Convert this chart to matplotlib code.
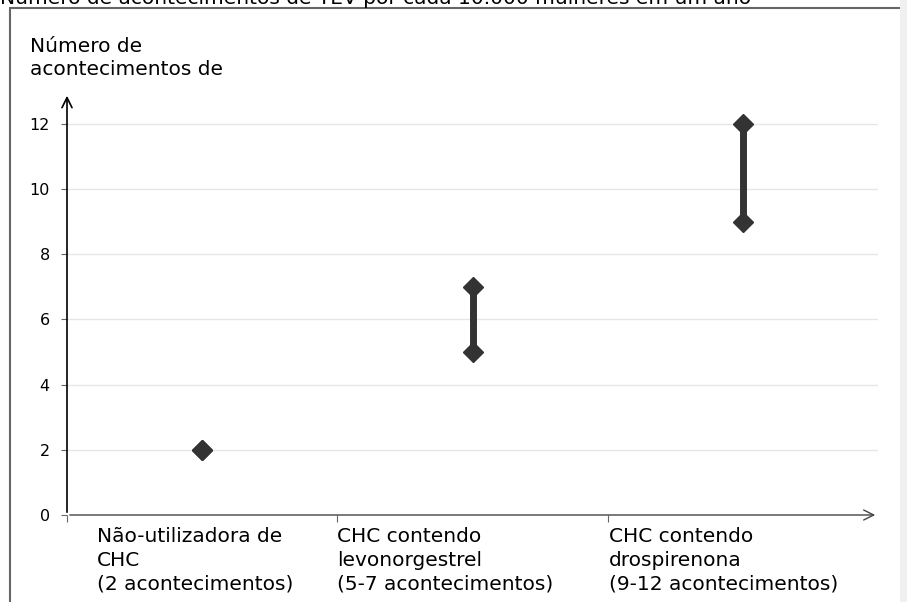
import numpy as np
import matplotlib
matplotlib.use("Agg")
import matplotlib.pyplot as plt
from matplotlib.patches import Rectangle

# dados
categorias = ["Não-utilizadora de\nCHC\n(2 acontecimentos)",
              "CHC contendo\nlevonorgestrel\n(5-7 acontecimentos)",
              "CHC contendo\ndrospirenona\n(9-12 acontecimentos)"]
minimos = [2, 5, 9]
maximos = [2, 7, 12]
yticks = [0, 2, 4, 6, 8, 10, 12]
titulo = "Número de acontecimentos de TEV por cada 10.000 mulheres em um ano"
ylabel = "Número de\nacontecimentos de"

W, H = 907, 602
FS = 14.5
cor = "#333333"

fig = plt.figure(figsize=(W / 100, H / 100), dpi=100)

# moldura e faixa cinzenta
fig.patches.append(Rectangle((10 / W, -0.1), 1.2, (H - 8) / H + 0.1, transform=fig.transFigure,
                             fill=False, ec="#666666", lw=1.5, zorder=0))
fig.patches.append(Rectangle((900 / W, 0), 7 / W, 1, transform=fig.transFigure,
                             fc="#f0f0f0", ec="none", zorder=1))

x0, x1 = 67, 878
ybot, ytop = 515, 93
ax = fig.add_axes([x0 / W, (H - ybot) / H, (x1 - x0) / W, (ybot - ytop) / H])
ax.set_xlim(0, 3)
ax.set_ylim(0, 12.95)
for s in ax.spines.values():
    s.set_visible(False)
ax.patch.set_alpha(0)

for y in yticks[1:]:
    ax.axhline(y, color="#e6e6e6", lw=1, zorder=1)

xs = np.arange(len(categorias)) + 0.5
for x, lo, hi in zip(xs, minimos, maximos):
    if hi > lo:
        ax.plot([x, x], [lo, hi], color=cor, lw=5, solid_capstyle="butt", zorder=3)
    ax.plot([x, x], [lo, hi], ls="none", marker="D", ms=10, color=cor, zorder=4)

# eixos com setas
ax.annotate("", xy=(0, 1), xytext=(0, 0), xycoords="axes fraction",
            arrowprops=dict(arrowstyle="->", color="black", lw=1.2, mutation_scale=18))
ax.annotate("", xy=(1, 0), xytext=(0, 0), xycoords="axes fraction",
            arrowprops=dict(arrowstyle="->", color="#444444", lw=1, mutation_scale=18))

ax.set_yticks(yticks)
ax.set_yticklabels([str(v) for v in yticks], fontsize=11.5)
ax.tick_params(axis="y", length=4.5, width=0.8, color="#666666", pad=8)
ax.set_xticks([0, 1, 2])
ax.set_xticklabels([])
ax.tick_params(axis="x", length=5, width=0.8, color="#666666")

lab_x = [97, 337, 609]
for lx, c in zip(lab_x, categorias):
    fig.text(lx / W, 1 - 527 / H, c, fontsize=FS, ha="left", va="top", linespacing=1.33)

fig.text(30 / W, 1 - 37 / H, ylabel, fontsize=FS, ha="left", va="top", linespacing=1.25)
fig.text(0 / W, 1.0 + 2 / H, titulo, fontsize=FS, ha="left", va="center")

fig.savefig("out.png", dpi=100)
